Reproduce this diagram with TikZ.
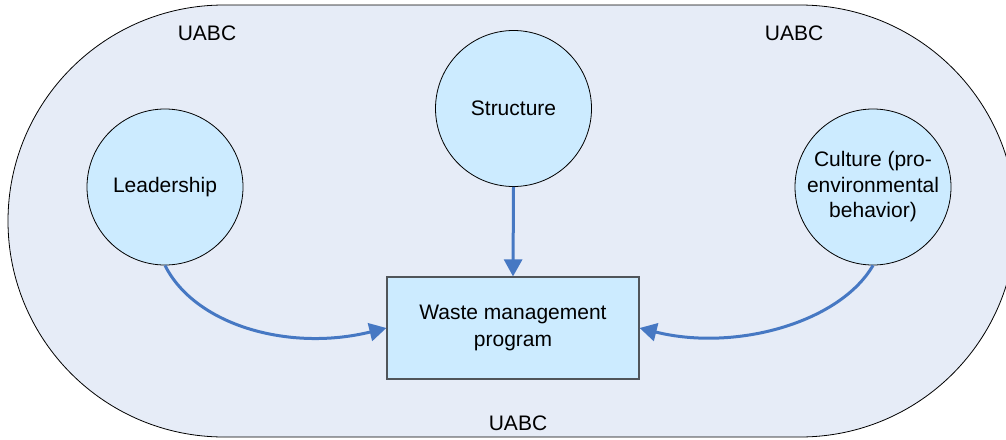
\documentclass[tikz,border=0pt]{standalone}
\usepackage{fontspec}
\setmainfont{Liberation Sans}
\usetikzlibrary{arrows.meta}
\definecolor{bgfill}{RGB}{230,236,247}
\definecolor{nodefill}{RGB}{204,235,255}
\definecolor{arrowblue}{RGB}{70,120,195}
\definecolor{boxline}{RGB}{80,85,90}
\tikzset{
  circ/.style={circle, draw=black, line width=0.8pt, fill=nodefill, minimum size=156pt, inner sep=0pt, align=center, font=\fontsize{21}{25.5}\selectfont},
  progbox/.style={rectangle, draw=boxline, line width=1.2pt, fill=nodefill, minimum width=252pt, minimum height=102pt, inner sep=0pt, align=center, font=\fontsize{21}{27}\selectfont},
  lbl/.style={inner sep=0pt, font=\fontsize{21}{25}\selectfont},
  conn/.style={draw=arrowblue, line width=3pt, -{Triangle[length=17pt,width=18pt]}}
}
\begin{document}
\begin{tikzpicture}[x=1pt,y=-1pt]
\useasboundingbox (0,0) rectangle (1006,439);
\clip (0,0) rectangle (1006,439);
\draw[fill=bgfill, line width=0.8pt, rounded corners=216pt] (8,5) rectangle (1016,437);
\node[lbl] (u1) at (207,33) {UABC};
\node[lbl] (u2) at (794,33) {UABC};
\node[lbl] (u3) at (518,423) {UABC};
\node[circ] (lead) at (165,187) {Leadership};
\node[circ] (struct) at (513.5,108.5) {Structure};
\node[circ] (cult) at (873,187) {Culture (pro-\\environmental\\behavior)};
\node[progbox] (prog) at (513,328) {Waste management\\program};
\draw[conn] (struct.south) -- (prog.north);
\draw[conn] (lead.south) .. controls +(30,60) and +(-97,24) .. (prog.west);
\draw[conn] (cult.south) .. controls +(-33,57) and +(96,24) .. (prog.east);
\end{tikzpicture}
\end{document}
